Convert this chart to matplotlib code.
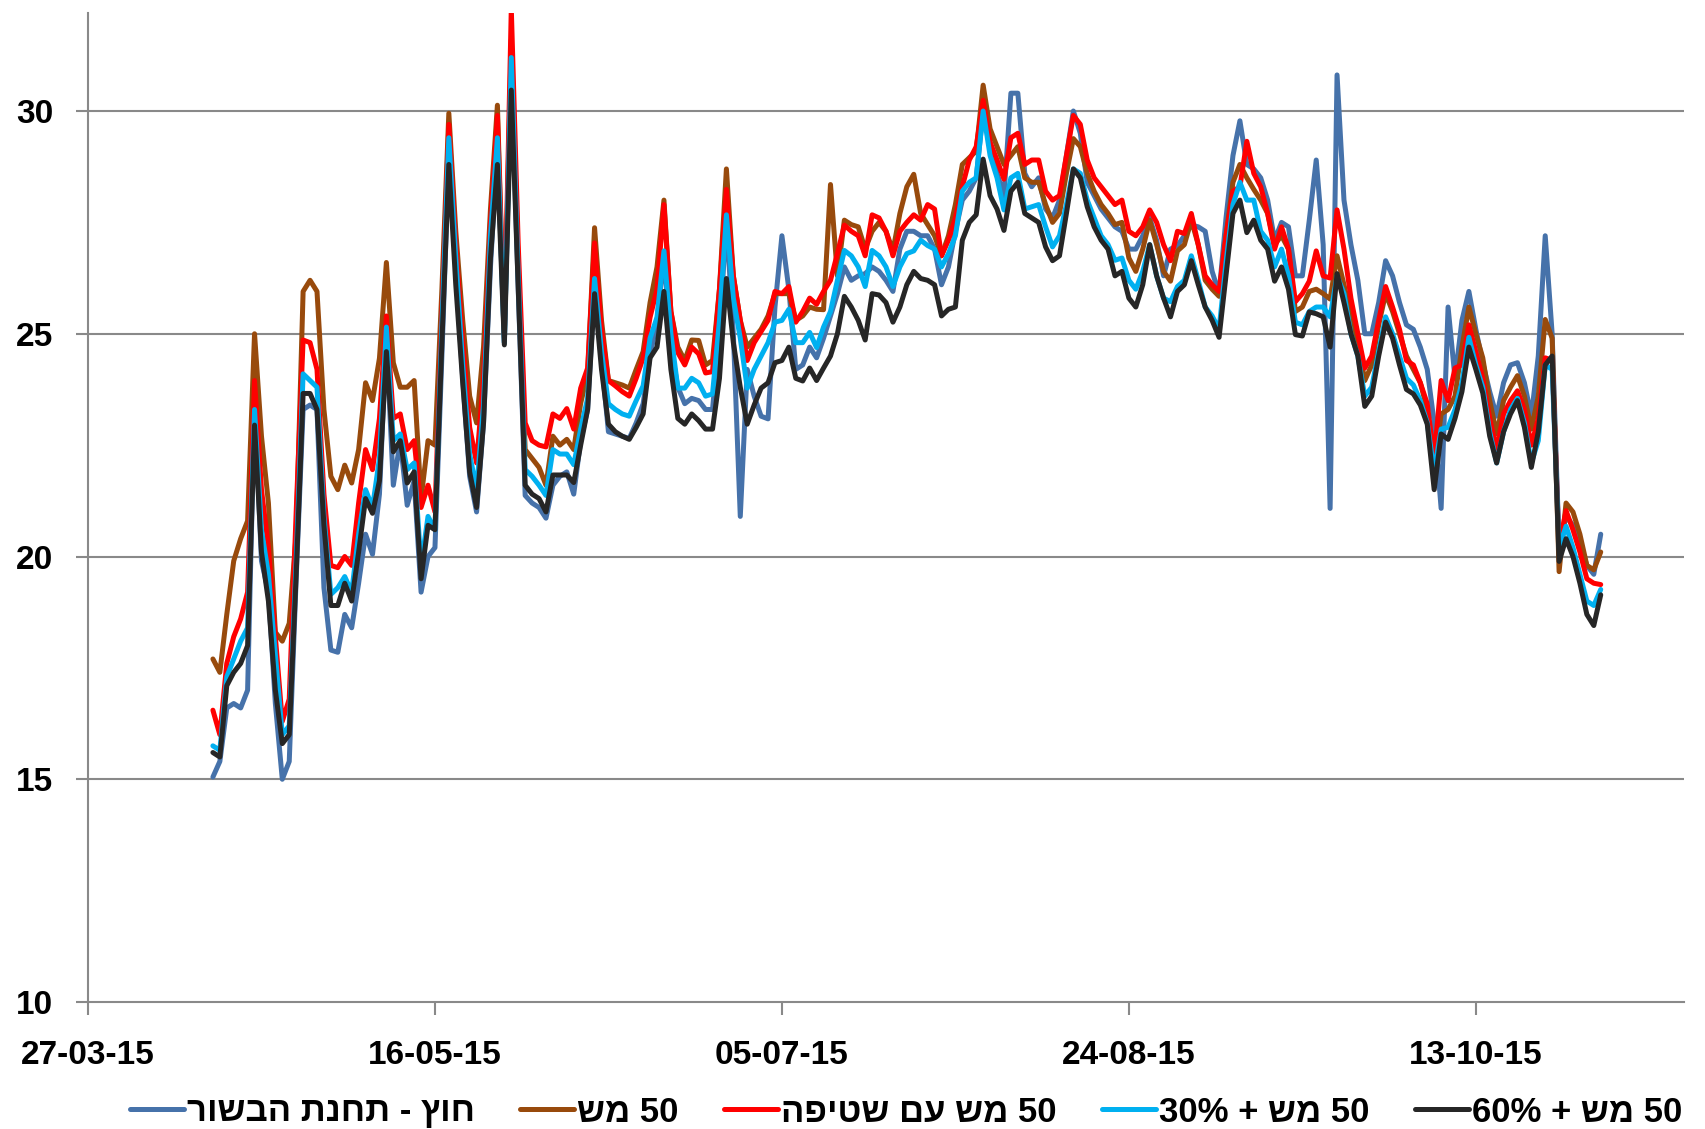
import numpy as np
import matplotlib
matplotlib.use("Agg")
from matplotlib import pyplot as plt
import matplotlib.dates as mdates

# daily readings, 14-04-15 .. 31-10-15
first_day = "2015-04-14"

blue = [15.05, 15.4, 16.6, 16.7, 16.6, 17.0, 23.4, 19.9, 19.2, 16.7,
        15.0, 15.4, 19.5, 23.3, 23.4, 23.3, 19.3, 17.9, 17.85, 18.7,
        18.4, 19.4, 20.5, 20.05, 21.4, 24.9, 21.6, 22.6, 21.15, 21.7,
        19.2, 20.0, 20.2, 24.5, 29.0, 26.5, 24.0, 21.8, 21.0, 23.0,
        26.5, 29.2, 24.8, 31.0, 26.0, 21.37, 21.2, 21.1, 20.86, 21.6,
        21.8, 21.9, 21.4, 22.6, 23.3, 26.06, 24.4, 22.8, 22.75, 22.7,
        22.65, 23.0, 23.43, 24.5, 25.3, 26.75, 24.7, 23.8, 23.43, 23.55,
        23.5, 23.3, 23.3, 25.0, 27.55, 25.0, 20.9, 24.2, 23.6, 23.15,
        23.09, 25.6, 27.2, 26.0, 24.2, 24.3, 24.7, 24.46, 24.9, 25.4,
        25.9, 26.5, 26.2, 26.3, 26.35, 26.5, 26.4, 26.2, 25.95, 26.9,
        27.3, 27.3, 27.2, 27.2, 26.9, 26.1, 26.5, 27.3, 28.0, 28.2,
        28.5, 30.0, 29.3, 28.6, 28.1, 30.4, 30.4, 28.6, 28.3, 28.5,
        27.8, 27.6, 28.0, 29.0, 30.0, 29.5, 28.4, 28.1, 27.8, 27.6,
        27.4, 27.3, 26.9, 26.9, 27.2, 27.6, 27.1, 26.3, 26.9, 26.98,
        27.2, 27.44, 27.4, 27.3, 26.4, 25.9, 27.6, 29.0, 29.78, 28.8,
        28.7, 28.5, 28.0, 27.1, 27.5, 27.4, 26.3, 26.3, 27.55, 28.9,
        27.0, 21.08, 30.81, 28.0, 27.0, 26.2, 25.0, 25.0, 25.7, 26.64,
        26.3, 25.7, 25.2, 25.1, 24.7, 24.2, 23.0, 21.08, 25.6, 24.0,
        25.3, 25.95, 25.1, 24.35, 23.7, 23.15, 23.9, 24.3, 24.35, 23.9,
        23.15, 24.5, 27.2, 25.0, 20.2, 20.9, 20.7, 20.3, 19.8, 19.6,
        20.5]

brown = [17.7, 17.4, 18.7, 19.9, 20.4, 20.8, 25.0, 22.7, 21.2, 18.3,
         18.1, 18.5, 20.5, 25.95, 26.2, 25.95, 23.3, 21.8, 21.5, 22.05,
         21.65, 22.4, 23.9, 23.5, 24.45, 26.6, 24.35, 23.8, 23.8, 23.95,
         21.3, 22.6, 22.5, 26.0, 29.95, 27.3, 25.3, 23.6, 23.0, 24.7,
         27.8, 30.13, 25.0, 31.6, 26.5, 22.4, 22.2, 22.0, 21.6, 22.7,
         22.5, 22.63, 22.4, 23.44, 24.1, 27.38, 25.3, 23.95, 23.9, 23.85,
         23.78, 24.2, 24.6, 25.7, 26.5, 28.0, 25.5, 24.7, 24.4, 24.86,
         24.85, 24.3, 24.4, 26.0, 28.7, 26.3, 25.3, 24.7, 24.9, 25.1,
         25.4, 25.9, 25.9, 25.9, 25.3, 25.4, 25.6, 25.55, 25.54, 28.35,
         26.3, 27.55, 27.45, 27.4, 26.9, 27.3, 27.5, 27.3, 26.86, 27.7,
         28.3, 28.58, 27.7, 27.45, 27.2, 26.75, 27.2, 27.9, 28.8, 28.95,
         29.1, 30.58, 29.6, 29.2, 28.8, 29.0, 29.2, 28.5, 28.4, 28.4,
         27.9, 27.5, 27.7, 28.6, 29.38, 29.2, 28.6, 28.2, 27.9, 27.7,
         27.45, 27.5, 26.7, 26.4, 26.9, 27.55, 27.0, 26.4, 26.18, 26.86,
         27.0, 27.55, 27.0, 26.2, 26.0, 25.84, 27.2, 28.4, 28.8, 28.5,
         28.24, 28.0, 27.7, 27.0, 27.2, 26.9, 25.5, 25.6, 25.95, 26.0,
         25.9, 25.78, 26.75, 26.1, 25.4, 24.8, 23.95, 24.3, 25.2, 25.9,
         25.5, 25.0, 24.5, 24.2, 23.9, 23.3, 22.0, 23.2, 23.3, 23.6,
         24.7, 25.6, 25.0, 24.46, 23.5, 22.75, 23.5, 23.8, 24.06, 23.6,
         22.86, 23.6, 25.32, 24.9, 19.66, 21.2, 21.0, 20.5, 19.8, 19.7,
         20.1]

red = [16.55, 16.0, 17.6, 18.2, 18.6, 19.2, 23.95, 21.5, 20.2, 18.2,
       16.3, 16.8, 21.0, 24.86, 24.8, 24.2, 21.4, 19.8, 19.75, 20.0,
       19.8, 21.2, 22.4, 21.95, 23.1, 25.4, 23.1, 23.2, 22.4, 22.6,
       21.1, 21.6, 21.0, 25.5, 29.7, 27.0, 24.8, 22.9, 22.1, 24.0,
       27.5, 29.9, 25.0, 32.3, 27.0, 23.0, 22.6, 22.5, 22.46, 23.2,
       23.1, 23.32, 22.86, 23.78, 24.23, 27.04, 25.1, 23.95, 23.83, 23.7,
       23.6, 24.0, 24.46, 25.37, 26.0, 27.9, 25.5, 24.58, 24.3, 24.7,
       24.55, 24.12, 24.15, 26.0, 28.24, 26.3, 25.3, 24.4, 24.8, 25.05,
       25.3, 25.95, 25.9, 26.06, 25.26, 25.5, 25.8, 25.66, 25.95, 26.2,
       26.8, 27.44, 27.3, 27.2, 26.75, 27.67, 27.6, 27.3, 26.75, 27.3,
       27.5, 27.67, 27.55, 27.9, 27.8, 26.75, 27.1, 27.6, 28.3, 28.9,
       29.2, 30.24, 29.3, 28.9, 28.47, 29.4, 29.5, 28.8, 28.9, 28.9,
       28.2, 28.0, 28.1, 29.0, 29.9, 29.7, 28.9, 28.5, 28.3, 28.1,
       27.9, 28.0, 27.3, 27.2, 27.4, 27.78, 27.5, 27.0, 26.64, 27.3,
       27.25, 27.7, 27.0, 26.3, 26.1, 25.95, 27.2, 28.2, 28.3, 29.32,
       28.6, 28.3, 27.7, 26.9, 27.4, 26.9, 25.72, 25.9, 26.18, 26.86,
       26.3, 26.25, 27.78, 26.9, 25.8, 25.0, 24.23, 24.5, 25.3, 26.06,
       25.6, 25.1, 24.4, 24.3, 23.9, 23.43, 22.2, 23.95, 23.5, 24.23,
       24.3, 25.2, 24.6, 24.0, 23.1, 22.4, 23.2, 23.5, 23.72, 23.3,
       22.5, 23.1, 24.46, 24.4, 20.23, 21.03, 20.6, 20.1, 19.5, 19.4,
       19.37]

cyan = [15.75, 15.65, 17.3, 17.7, 18.1, 18.4, 23.3, 20.6, 19.6, 17.8,
        16.0, 16.2, 19.9, 24.1, 23.95, 23.8, 20.9, 19.15, 19.3, 19.55,
        19.2, 20.5, 21.5, 21.1, 22.2, 25.15, 22.6, 22.75, 21.95, 22.1,
        19.8, 20.9, 20.6, 25.2, 29.4, 26.7, 24.3, 22.3, 21.5, 23.4,
        27.2, 29.4, 24.8, 31.2, 26.3, 21.95, 21.8, 21.6, 21.37, 22.4,
        22.3, 22.3, 22.06, 22.86, 23.55, 26.24, 24.6, 23.43, 23.3, 23.2,
        23.15, 23.5, 23.83, 24.9, 25.37, 26.86, 25.0, 23.78, 23.78, 24.0,
        23.9, 23.6, 23.65, 25.3, 27.67, 25.8, 24.9, 23.78, 24.2, 24.5,
        24.8, 25.26, 25.3, 25.55, 24.8, 24.8, 25.03, 24.69, 25.15, 25.5,
        26.2, 26.87, 26.75, 26.5, 26.06, 26.87, 26.75, 26.5, 26.06, 26.5,
        26.8, 26.86, 27.1, 26.98, 26.9, 26.5, 26.8, 27.2, 28.2, 28.4,
        28.5, 30.0, 29.0, 28.5, 27.78, 28.5, 28.6, 27.8, 27.85, 27.9,
        27.4, 26.95, 27.2, 27.9, 28.7, 28.6, 28.0, 27.6, 27.2, 27.0,
        26.65, 26.7, 26.2, 26.0, 26.4, 27.0, 26.3, 25.8, 25.72, 26.06,
        26.2, 26.75, 26.2, 25.6, 25.4, 25.1, 26.6, 27.9, 28.4, 28.0,
        28.0, 27.3, 27.1, 26.5, 26.9, 26.3, 25.26, 25.2, 25.5, 25.6,
        25.6, 25.38, 26.3, 25.9, 25.0, 24.5, 23.6, 23.8, 24.6, 25.38,
        25.0, 24.5, 24.0, 23.85, 23.5, 23.0, 21.9, 22.86, 22.9, 23.3,
        23.9, 24.92, 24.3, 23.8, 22.8, 22.1, 22.8, 23.3, 23.55, 23.0,
        22.1, 22.6, 24.3, 24.2, 20.2, 20.68, 20.2, 19.6, 19.0, 18.9,
        19.26]

black = [15.6, 15.5, 17.1, 17.4, 17.6, 18.0, 22.95, 20.1, 19.0, 17.0,
         15.8, 16.0, 19.6, 23.66, 23.66, 23.3, 20.7, 18.9, 18.9, 19.4,
         19.0, 20.1, 21.3, 20.97, 21.7, 24.6, 22.35, 22.6, 21.65, 21.9,
         19.5, 20.7, 20.6, 24.8, 28.8, 26.1, 23.9, 21.9, 21.1, 23.0,
         26.7, 28.8, 24.75, 30.47, 26.0, 21.6, 21.4, 21.3, 21.0, 21.83,
         21.83, 21.83, 21.66, 22.5, 23.3, 25.9, 24.2, 22.97, 22.8, 22.7,
         22.63, 22.9, 23.2, 24.46, 24.7, 25.95, 24.2, 23.1, 22.97, 23.2,
         23.05, 22.86, 22.86, 24.0, 26.24, 24.8, 23.8, 22.97, 23.4, 23.78,
         23.9, 24.35, 24.4, 24.7, 24.0, 23.94, 24.23, 23.95, 24.23, 24.5,
         25.0, 25.84, 25.6, 25.3, 24.86, 25.9, 25.87, 25.7, 25.26, 25.6,
         26.1, 26.4, 26.24, 26.2, 26.1, 25.4, 25.55, 25.6, 27.1, 27.5,
         27.67, 28.92, 28.1, 27.8, 27.32, 28.2, 28.4, 27.7, 27.6, 27.5,
         26.95, 26.64, 26.75, 27.7, 28.7, 28.5, 27.85, 27.4, 27.1, 26.9,
         26.3, 26.4, 25.8, 25.6, 26.1, 27.0, 26.3, 25.8, 25.38, 25.95,
         26.1, 26.64, 26.1, 25.6, 25.3, 24.92, 26.3, 27.7, 28.0, 27.27,
         27.55, 27.1, 26.9, 26.18, 26.5, 26.0, 24.98, 24.95, 25.49, 25.45,
         25.38, 24.7, 26.35, 25.7, 25.0, 24.5, 23.37, 23.6, 24.5, 25.26,
         24.9, 24.3, 23.75, 23.65, 23.4, 22.97, 21.5, 22.75, 22.63, 23.1,
         23.7, 24.7, 24.2, 23.67, 22.7, 22.1, 22.8, 23.2, 23.5, 22.9,
         22.0, 22.8, 24.3, 24.5, 19.89, 20.4, 20.0, 19.4, 18.7, 18.45,
         19.14]

# legend labels, Hebrew written in visual (left-to-right) order
labels = ["רושבה תנחת - ץוח", "שמ 50", "הפיטש םע שמ 50", "30% + שמ 50", "60% + שמ 50"]
colors = ["#4672AA", "#984A0C", "#FF0000", "#00B0F0", "#262626"]
tick_dates = ["2015-03-27", "2015-05-16", "2015-07-05", "2015-08-24", "2015-10-13"]

plt.rcParams['font.family'] = ['Liberation Sans', 'DejaVu Sans']
plt.rcParams['font.weight'] = 'bold'

fig = plt.figure(figsize=(17.06, 11.29), dpi=100)
ax = fig.add_axes([88 / 1706, 1 - 1002 / 1129, (1684 - 88) / 1706, (1002 - 13) / 1129])

dates = np.datetime64(first_day) + np.arange(len(blue))
for series, color, label in zip([blue, brown, red, cyan, black], colors, labels):
    ax.plot(dates, series, color=color, lw=3.6, label=label,
            solid_joinstyle='round', solid_capstyle='round')

ax.set_ylim(10, 32.2)
ax.set_yticks([10, 15, 20, 25, 30])
ax.set_xlim(np.datetime64("2015-03-27"), np.datetime64("2015-11-12"))
ax.set_xticks([np.datetime64(d) for d in tick_dates])
ax.xaxis.set_major_formatter(mdates.DateFormatter('%d-%m-%y'))

for y in [15, 20, 25, 30]:
    ax.axhline(y, color='#898989', lw=1.5, zorder=0)

for side in ['top', 'right']:
    ax.spines[side].set_visible(False)
for side in ['left', 'bottom']:
    ax.spines[side].set_color('#898989')
    ax.spines[side].set_linewidth(1.5)

ax.tick_params(axis='y', direction='out', length=9, width=1.5, color='#898989',
               labelsize=24, pad=16)
ax.tick_params(axis='x', direction='out', length=9, width=1.5, color='#898989',
               labelsize=24, pad=18)

fig.legend(loc='center', bbox_to_anchor=(906 / 1706, 1 - 1112 / 1129), ncol=5,
           frameon=False, fontsize=25, handlelength=1.55, handletextpad=0.1,
           columnspacing=1.3, borderpad=0, borderaxespad=0)

fig.savefig("out.png", dpi=100)
